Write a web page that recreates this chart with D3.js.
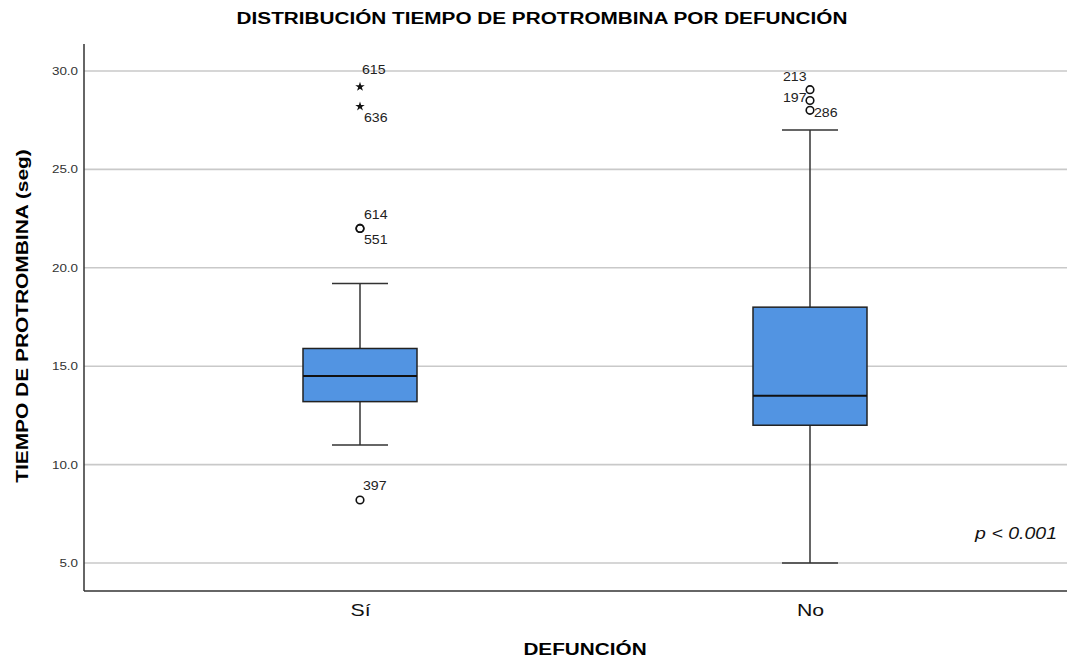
<!DOCTYPE html>
<html>
<head>
<meta charset="utf-8">
<script src="https://d3js.org/d3.v7.min.js"></script>
<style>
  body { margin: 0; background: #fff; }
  text { font-family: "Liberation Sans", Arial, sans-serif; }
</style>
</head>
<body>
<div id="chart"></div>
<script>
// box plot summary values
var categories = ["Sí", "No"];
var whiskerLow  = [11.0, 5.0];
var q1          = [13.2, 12.0];
var median      = [14.5, 13.5];
var q3          = [15.9, 18.0];
var whiskerHigh = [19.2, 27.0];

// outliers: group, case id, value, kind (o = circle, * = extreme)
var outlierGroup = ["Sí", "Sí", "Sí", "Sí", "Sí", "No", "No", "No"];
var outlierId    = ["615", "636", "614", "551", "397", "213", "197", "286"];
var outlierValue = [29.2, 28.2, 22.0, 22.0, 8.2, 29.05, 28.5, 28.0];
var outlierKind  = ["*", "*", "o", "o", "o", "o", "o", "o"];

var yTicks = [5, 10, 15, 20, 25, 30];

// label offsets for the case numbers (dx, dy relative to the mark)
var labelOffset = {
  "615": [2, -13], "636": [4, 16], "614": [4, -9], "551": [4, 16],
  "397": [3, -10], "213": [-27, -9], "197": [-27, 1], "286": [4, 7]
};

var W = 1070, H = 662;
var margin = {top: 44, right: 3, bottom: 71, left: 84};
var width = W - margin.left - margin.right,
    height = H - margin.top - margin.bottom;

// the original glyphs are wider than Liberation Sans: scale them horizontally
// around their own x anchor
function stretch(sel, k) {
  sel.each(function() {
    var t = d3.select(this);
    var x0 = +t.attr("x") || 0;
    var tr = t.attr("transform") || "";
    t.attr("transform", tr + " translate(" + x0 + ",0) scale(" + k + ",1) translate(" + (-x0) + ",0)");
  });
}

var svg = d3.select("#chart")
  .append("svg")
    .attr("width", W)
    .attr("height", H);

var g = svg.append("g")
    .attr("transform", "translate(" + margin.left + "," + margin.top + ")");

var y = d3.scaleLinear()
  .domain([3.577, 31.372])
  .range([height, 0]);

var x = d3.scalePoint()
  .domain(categories)
  .range([276, 726]);

// grid lines
g.append("g")
  .selectAll("line")
  .data(yTicks)
  .enter()
  .append("line")
    .attr("x1", 0)
    .attr("x2", width)
    .attr("y1", function(d) { return y(d); })
    .attr("y2", function(d) { return y(d); })
    .style("stroke", "#c9c9c9")
    .style("stroke-width", 1.6);

// Y axis
var yAxis = g.append("g")
  .call(d3.axisLeft(y).tickValues(yTicks).tickFormat(d3.format(".1f")).tickSize(0).tickPadding(6));
yAxis.select(".domain").remove();
yAxis.selectAll("text")
  .style("font-size", "11px")
  .style("fill", "#333")
  .call(stretch, 1.22);

// X axis labels
var xAxis = g.append("g")
  .attr("transform", "translate(0," + height + ")")
  .call(d3.axisBottom(x).tickSize(0).tickPadding(13));
xAxis.select(".domain").remove();
xAxis.selectAll("text")
  .style("font-size", "17px")
  .style("fill", "#111")
  .call(stretch, 1.25);

// axis lines
g.append("line")
  .attr("x1", 0).attr("x2", 0).attr("y1", 0).attr("y2", height)
  .style("stroke", "#333").style("stroke-width", 1.5);
g.append("line")
  .attr("x1", 0).attr("x2", width).attr("y1", height).attr("y2", height)
  .style("stroke", "#333").style("stroke-width", 1.5);

var boxW = 114, capW = 56;
var boxes = categories.map(function(c, i) {
  return {cat: c, lo: whiskerLow[i], q1: q1[i], med: median[i], q3: q3[i], hi: whiskerHigh[i]};
});

var bg = g.append("g")
  .selectAll("g")
  .data(boxes)
  .enter()
  .append("g");

// whisker stem
bg.append("line")
  .attr("x1", function(d) { return x(d.cat); })
  .attr("x2", function(d) { return x(d.cat); })
  .attr("y1", function(d) { return y(d.lo); })
  .attr("y2", function(d) { return y(d.hi); })
  .style("stroke", "#333").style("stroke-width", 1.5);

// caps
["lo", "hi"].forEach(function(k) {
  bg.append("line")
    .attr("x1", function(d) { return x(d.cat) - capW / 2; })
    .attr("x2", function(d) { return x(d.cat) + capW / 2; })
    .attr("y1", function(d) { return y(d[k]); })
    .attr("y2", function(d) { return y(d[k]); })
    .style("stroke", "#333").style("stroke-width", 1.5);
});

// box
bg.append("rect")
  .attr("x", function(d) { return x(d.cat) - boxW / 2; })
  .attr("y", function(d) { return y(d.q3); })
  .attr("width", boxW)
  .attr("height", function(d) { return y(d.q1) - y(d.q3); })
  .style("fill", "#5294e2")
  .style("stroke", "#222")
  .style("stroke-width", 1.5);

// median
bg.append("line")
  .attr("x1", function(d) { return x(d.cat) - boxW / 2; })
  .attr("x2", function(d) { return x(d.cat) + boxW / 2; })
  .attr("y1", function(d) { return y(d.med); })
  .attr("y2", function(d) { return y(d.med); })
  .style("stroke", "#111").style("stroke-width", 2);

// outliers
var outliers = outlierId.map(function(id, i) {
  return {id: id, cat: outlierGroup[i], v: outlierValue[i], kind: outlierKind[i]};
});

var og = g.append("g");
og.selectAll("circle")
  .data(outliers.filter(function(d) { return d.kind == "o"; }))
  .enter()
  .append("circle")
    .attr("cx", function(d) { return x(d.cat); })
    .attr("cy", function(d) { return y(d.v); })
    .attr("r", 3.8)
    .style("fill", "none")
    .style("stroke", "#111")
    .style("stroke-width", 1.6);

og.selectAll("path")
  .data(outliers.filter(function(d) { return d.kind == "*"; }))
  .enter()
  .append("path")
    .attr("d", d3.symbol().type(d3.symbolStar).size(28))
    .attr("transform", function(d) { return "translate(" + x(d.cat) + "," + y(d.v) + ")"; })
    .style("fill", "#111");

og.selectAll("text")
  .data(outliers)
  .enter()
  .append("text")
    .attr("x", function(d) { return x(d.cat) + labelOffset[d.id][0]; })
    .attr("y", function(d) { return y(d.v) + labelOffset[d.id][1]; })
    .style("font-size", "12px")
    .style("fill", "#222")
    .text(function(d) { return d.id; })
    .call(stretch, 1.18);

// p value
g.append("text")
  .attr("x", width - 10)
  .attr("y", y(6.2))
  .attr("text-anchor", "end")
  .style("font-size", "16px")
  .style("font-style", "italic")
  .style("fill", "#111")
  .text("p < 0.001")
  .call(stretch, 1.22);

// titles
svg.append("text")
  .attr("x", 542)
  .attr("y", 24)
  .attr("text-anchor", "middle")
  .style("font-size", "17px")
  .style("font-weight", "bold")
  .text("DISTRIBUCIÓN TIEMPO DE PROTROMBINA POR DEFUNCIÓN")
  .call(stretch, 1.22);

svg.append("text")
  .attr("x", 585)
  .attr("y", 655)
  .attr("text-anchor", "middle")
  .style("font-size", "17px")
  .style("font-weight", "bold")
  .text("DEFUNCIÓN")
  .call(stretch, 1.22);

svg.append("text")
  .attr("transform", "translate(28," + 316 + ") rotate(-90)")
  .attr("text-anchor", "middle")
  .style("font-size", "17px")
  .style("font-weight", "bold")
  .text("TIEMPO DE PROTROMBINA (seg)")
  .call(stretch, 1.23);
</script>
</body>
</html>
